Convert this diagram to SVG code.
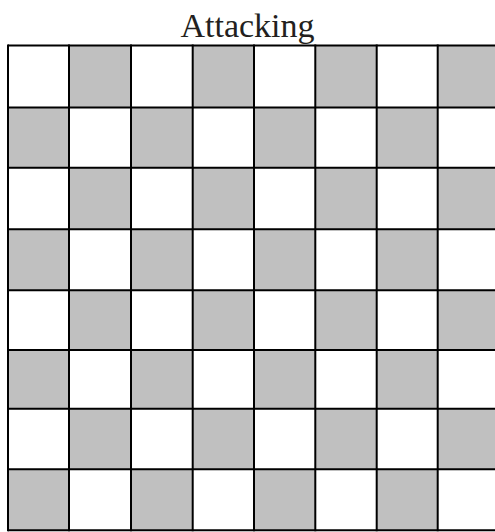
<svg xmlns="http://www.w3.org/2000/svg" width="495" height="532" viewBox="0 0 495 532">
<style>
.g{fill:#c0c0c0}
.ln{stroke:#000;stroke-width:2;fill:none}
.t{font-family:"Liberation Serif",serif;font-size:34px;fill:#231f20}
</style>
<rect width="495" height="532" fill="#fff"/>
<text class="t" x="247.5" y="37" text-anchor="middle">Attacking</text>
<g id="board">
<g id="squares">
<rect class="g" x="69" y="45.5" width="62" height="62"/>
<rect class="g" x="192.7" y="45.5" width="61.3" height="62"/>
<rect class="g" x="315.3" y="45.5" width="61.4" height="62"/>
<rect class="g" x="437.7" y="45.5" width="61.3" height="62"/>
<rect class="g" x="8" y="107.5" width="61" height="60.2"/>
<rect class="g" x="131" y="107.5" width="61.7" height="60.2"/>
<rect class="g" x="254" y="107.5" width="61.3" height="60.2"/>
<rect class="g" x="376.7" y="107.5" width="61" height="60.2"/>
<rect class="g" x="69" y="167.7" width="62" height="61.6"/>
<rect class="g" x="192.7" y="167.7" width="61.3" height="61.6"/>
<rect class="g" x="315.3" y="167.7" width="61.4" height="61.6"/>
<rect class="g" x="437.7" y="167.7" width="61.3" height="61.6"/>
<rect class="g" x="8" y="229.3" width="61" height="61"/>
<rect class="g" x="131" y="229.3" width="61.7" height="61"/>
<rect class="g" x="254" y="229.3" width="61.3" height="61"/>
<rect class="g" x="376.7" y="229.3" width="61" height="61"/>
<rect class="g" x="69" y="290.3" width="62" height="59.7"/>
<rect class="g" x="192.7" y="290.3" width="61.3" height="59.7"/>
<rect class="g" x="315.3" y="290.3" width="61.4" height="59.7"/>
<rect class="g" x="437.7" y="290.3" width="61.3" height="59.7"/>
<rect class="g" x="8" y="350" width="61" height="58.7"/>
<rect class="g" x="131" y="350" width="61.7" height="58.7"/>
<rect class="g" x="254" y="350" width="61.3" height="58.7"/>
<rect class="g" x="376.7" y="350" width="61" height="58.7"/>
<rect class="g" x="69" y="408.7" width="62" height="60.6"/>
<rect class="g" x="192.7" y="408.7" width="61.3" height="60.6"/>
<rect class="g" x="315.3" y="408.7" width="61.4" height="60.6"/>
<rect class="g" x="437.7" y="408.7" width="61.3" height="60.6"/>
<rect class="g" x="8" y="469.3" width="61" height="61"/>
<rect class="g" x="131" y="469.3" width="61.7" height="61"/>
<rect class="g" x="254" y="469.3" width="61.3" height="61"/>
<rect class="g" x="376.7" y="469.3" width="61" height="61"/>
</g>
<g id="gridlines" class="ln">
<path d="M8 45.5H499M8 107.5H499M8 167.7H499M8 229.3H499M8 290.3H499M8 350H499M8 408.7H499M8 469.3H499M8 530.3H499"/>
<path d="M8 44.5V531.3M69 44.5V531.3M131 44.5V531.3M192.7 44.5V531.3M254 44.5V531.3M315.3 44.5V531.3M376.7 44.5V531.3M437.7 44.5V531.3"/>
</g>
</g>
</svg>
